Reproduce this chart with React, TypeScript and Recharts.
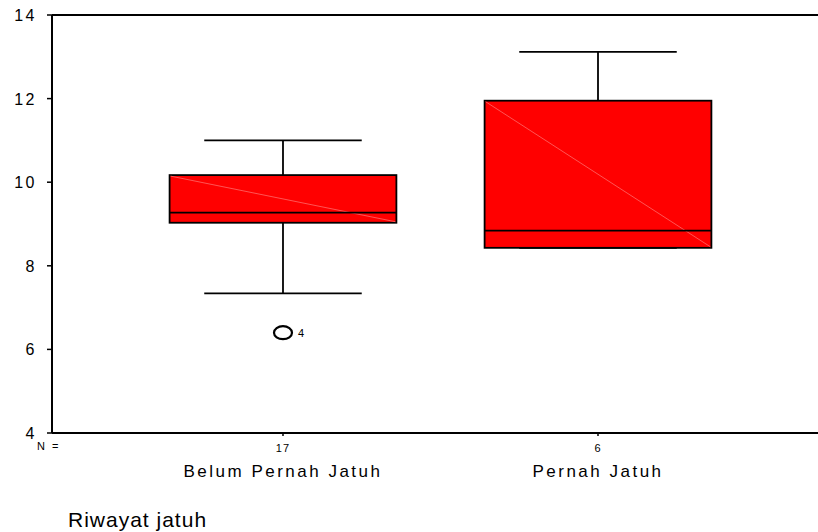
import React from 'react';
import {
  ComposedChart,
  XAxis,
  YAxis,
  ReferenceArea,
  ReferenceLine,
  Scatter,
  Label,
} from 'recharts';

const categories = ['Belum Pernah Jatuh', 'Pernah Jatuh'];
const counts = [17, 6];
const positions = [1, 2];
const whiskerLow = [7.34, 8.43];
const q1 = [9.03, 8.43];
const medians = [9.27, 8.84];
const q3 = [10.17, 11.95];
const whiskerHigh = [11.0, 13.12];
const outliers = [{ x: 1, y: 6.4, label: '4' }];
const yTicks = [4, 6, 8, 10, 12, 14];

const BOX_HALF = 0.36;
const CAP_HALF = 0.25;
const FONT = '"Liberation Sans", Arial, Helvetica, sans-serif';

const BoxShape = (props: any) => {
  const { x, y, width, height } = props;
  return (
    <g>
      <rect x={x} y={y} width={width} height={height} fill="#ff0000" stroke="#000" strokeWidth={1.8} />
      <line x1={x + 1} y1={y + 1} x2={x + width - 1} y2={y + height - 1} stroke="#ff6a6a" strokeWidth={0.8} />
    </g>
  );
};

const OutlierShape = (props: any) => {
  const { cx, cy, payload } = props;
  return (
    <g>
      <ellipse cx={cx} cy={cy} rx={9} ry={6.5} fill="none" stroke="#000" strokeWidth={2.2} />
      <text x={cx + 15} y={cy + 4} fontSize={11} fontFamily={FONT} fill="#000">
        {payload.label}
      </text>
    </g>
  );
};

const XTick = (props: any) => {
  const { x, y, payload } = props;
  const i = positions.indexOf(payload.value);
  if (i < 0) return null;
  return (
    <g>
      <text x={x} y={y} dy={16} textAnchor="middle" fontSize={11} fontFamily={FONT} letterSpacing={1} fill="#000">
        {counts[i]}
      </text>
      <text
        x={x}
        y={y}
        dy={41}
        textAnchor="middle"
        fontSize={17}
        fontFamily={FONT}
        letterSpacing={2.5}
        fill="#000"
      >
        {categories[i]}
      </text>
    </g>
  );
};

const YTick = (props: any) => {
  const { x, y, payload } = props;
  return (
    <text
      x={x}
      y={y}
      dx={-3}
      dy={6}
      textAnchor="end"
      fontSize={16}
      fontFamily={FONT}
      letterSpacing={2.5}
      fill="#000"
    >
      {payload.value}
    </text>
  );
};

export default function App() {
  return (
    <div style={{ position: 'absolute', left: 0, top: 0, width: 818, height: 532, background: '#fff' }}>
      <ComposedChart
        width={818}
        height={532}
        margin={{ top: 15, right: 0, left: 0, bottom: 39 }}
      >
        <XAxis
          type="number"
          dataKey="x"
          domain={[0.2667, 2.6984]}
          ticks={positions}
          allowDataOverflow
          tickSize={3}
          tickMargin={0}
          height={60}
          axisLine={{ stroke: '#000', strokeWidth: 2 }}
          tickLine={{ stroke: '#000', strokeWidth: 1.5 }}
          tick={<XTick />}
        >
          <Label
            content={(p: any) => (
              <text
                x={p.viewBox.x - 15}
                y={p.viewBox.y + 17}
                fontSize={11}
                fontFamily={FONT}
                letterSpacing={2}
                fill="#000"
              >
                N =
              </text>
            )}
          />
        </XAxis>
        <YAxis
          type="number"
          dataKey="y"
          domain={[4, 14]}
          ticks={yTicks}
          width={52}
          tickSize={5}
          tickMargin={7}
          axisLine={{ stroke: '#000', strokeWidth: 2 }}
          tickLine={{ stroke: '#000', strokeWidth: 1.5 }}
          tick={<YTick />}
        />
        <ReferenceLine y={14} stroke="#000" strokeWidth={2} ifOverflow="visible" />
        {positions.map((p, i) => (
          <ReferenceLine
            key={`wh${i}`}
            segment={[{ x: p, y: q3[i] }, { x: p, y: whiskerHigh[i] }]}
            stroke="#000"
            strokeWidth={1.8}
          />
        ))}
        {positions.map((p, i) => (
          <ReferenceLine
            key={`wl${i}`}
            segment={[{ x: p, y: q1[i] }, { x: p, y: whiskerLow[i] }]}
            stroke="#000"
            strokeWidth={1.8}
          />
        ))}
        {positions.map((p, i) => (
          <ReferenceLine
            key={`ch${i}`}
            segment={[{ x: p - CAP_HALF, y: whiskerHigh[i] }, { x: p + CAP_HALF, y: whiskerHigh[i] }]}
            stroke="#000"
            strokeWidth={1.8}
          />
        ))}
        {positions.map((p, i) => (
          <ReferenceLine
            key={`cl${i}`}
            segment={[{ x: p - CAP_HALF, y: whiskerLow[i] }, { x: p + CAP_HALF, y: whiskerLow[i] }]}
            stroke="#000"
            strokeWidth={1.8}
          />
        ))}
        {positions.map((p, i) => (
          <ReferenceArea
            key={`box${i}`}
            x1={p - BOX_HALF}
            x2={p + BOX_HALF}
            y1={q1[i]}
            y2={q3[i]}
            shape={<BoxShape />}
            fillOpacity={1}
          />
        ))}
        {positions.map((p, i) => (
          <ReferenceLine
            key={`md${i}`}
            segment={[{ x: p - BOX_HALF, y: medians[i] }, { x: p + BOX_HALF, y: medians[i] }]}
            stroke="#000"
            strokeWidth={1.8}
          />
        ))}
        <Scatter data={outliers} dataKey="y" shape={<OutlierShape />} isAnimationActive={false} />
      </ComposedChart>
      <div
        style={{
          position: 'absolute',
          left: 68,
          top: 509,
          fontFamily: FONT,
          fontSize: 21,
          lineHeight: '21px',
          letterSpacing: 1,
          color: '#000',
          whiteSpace: 'nowrap',
        }}
      >
        Riwayat jatuh
      </div>
    </div>
  );
}
